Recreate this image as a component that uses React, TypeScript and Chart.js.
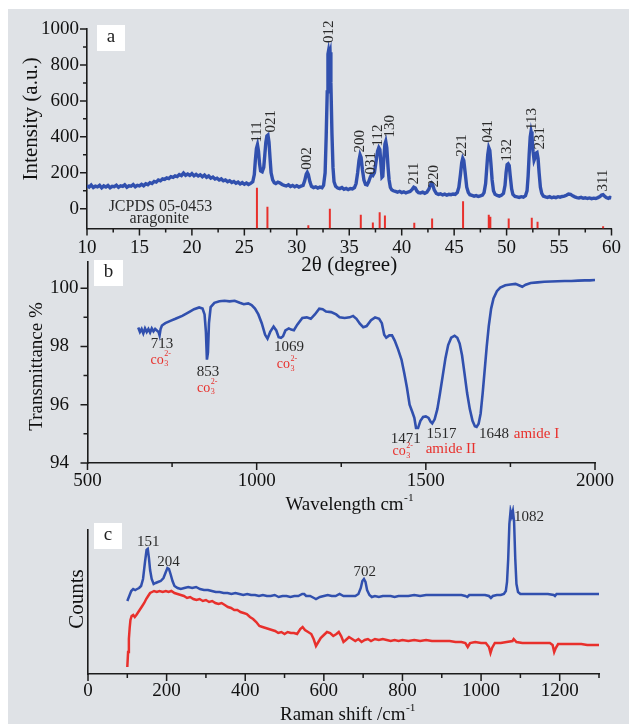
import React, { useEffect, useRef } from 'react';
import { Chart, registerables } from 'chart.js';

Chart.register(...registerables);

const FAMILY = "'Liberation Serif', 'DejaVu Serif', serif";
const BG = '#dfe2e6';
const AXIS = '#1c1c1c';
const INK = '#2a2a2a';
const TICKTXT = '#111111';
const BLUE = '#3150ae';
const RED = '#e8302c';

type Pt = [number, number];
type Label = [string, number, number];

// ---------------- Panel a : XRD ----------------
const xrdAngleMin = 10;
const xrdAngleMax = 60;
const xrdIntensityMin = -110;
const xrdIntensityMax = 1000;
const xrdAngleTicks = [10, 15, 20, 25, 30, 35, 40, 45, 50, 55, 60];
const xrdAngleMinorTicks = [12.5, 17.5, 22.5, 27.5, 32.5, 37.5, 42.5, 47.5, 52.5, 57.5];
const xrdIntensityTicks = [0, 200, 400, 600, 800, 1000];
const xrdIntensityMinorTicks = [100, 300, 500, 700, 900];

const xrdPattern: Pt[] = [
  [10.0, 128], [10.2, 120], [10.4, 132], [10.6, 118], [10.8, 126], [11.0, 122], [11.2, 130], [11.4, 116],
  [11.6, 127], [11.8, 121], [12.0, 129], [12.2, 117], [12.4, 125], [12.6, 123], [12.8, 131], [13.0, 119],
  [13.2, 127], [13.4, 124], [13.6, 133], [13.8, 120], [14.0, 128], [14.2, 125], [14.4, 134], [14.6, 122],
  [14.8, 130], [15.0, 127], [15.2, 136], [15.4, 128], [15.6, 139], [15.8, 134], [16.0, 145], [16.2, 140],
  [16.4, 152], [16.6, 148], [16.8, 160], [17.0, 155], [17.2, 166], [17.4, 163], [17.6, 172], [17.8, 168],
  [18.0, 178], [18.2, 174], [18.4, 183], [18.6, 179], [18.8, 190], [19.0, 184], [19.2, 198], [19.4, 186],
  [19.6, 193], [19.8, 185], [20.0, 195], [20.2, 183], [20.4, 191], [20.6, 182], [20.8, 189], [21.0, 178],
  [21.2, 187], [21.4, 175], [21.6, 182], [21.8, 170], [22.0, 176], [22.2, 165], [22.4, 170], [22.6, 160],
  [22.8, 166], [23.0, 155], [23.2, 160], [23.4, 150], [23.6, 156], [23.8, 146], [24.0, 152], [24.2, 142],
  [24.4, 148], [24.6, 138], [24.8, 145], [25.0, 136], [25.2, 143], [25.4, 135], [25.6, 141], [25.8, 150],
  [25.95, 190], [26.05, 270], [26.15, 335], [26.25, 356], [26.35, 320], [26.45, 250], [26.55, 210], [26.7, 205],
  [26.85, 230], [26.95, 300], [27.05, 370], [27.15, 405], [27.25, 410], [27.35, 370], [27.45, 280], [27.55, 200],
  [27.7, 160], [27.85, 145], [28.0, 140], [28.2, 148], [28.4, 143], [28.6, 135], [28.8, 130], [29.0, 127],
  [29.2, 133], [29.4, 124], [29.6, 130], [29.8, 122], [30.0, 128], [30.2, 121], [30.4, 126], [30.6, 130],
  [30.75, 155], [30.9, 192], [31.0, 202], [31.1, 190], [31.25, 150], [31.4, 125], [31.6, 118], [31.8, 122],
  [32.0, 115], [32.2, 120], [32.4, 117], [32.55, 130], [32.7, 200], [32.8, 400], [32.9, 650], [32.97, 860],
  [33.03, 880], [33.1, 855], [33.17, 870], [33.25, 700], [33.35, 420], [33.45, 230], [33.55, 150], [33.7, 125],
  [33.9, 115], [34.1, 112], [34.3, 118], [34.5, 108], [34.7, 113], [34.9, 106], [35.1, 112], [35.3, 110],
  [35.5, 118], [35.65, 140], [35.8, 200], [35.93, 270], [36.03, 300], [36.13, 285], [36.25, 220], [36.4, 160],
  [36.55, 135], [36.7, 132], [36.85, 150], [37.0, 175], [37.12, 190], [37.25, 185], [37.4, 200], [37.55, 260],
  [37.7, 320], [37.82, 340], [37.92, 330], [38.02, 250], [38.12, 175], [38.2, 180], [38.3, 280], [38.4, 360],
  [38.48, 375], [38.58, 340], [38.7, 230], [38.8, 160], [38.92, 118], [39.05, 105], [39.2, 100], [39.4, 96],
  [39.6, 92], [39.8, 97], [40.0, 90], [40.2, 94], [40.4, 88], [40.6, 93], [40.8, 96], [41.0, 108],
  [41.15, 120], [41.3, 115], [41.45, 98], [41.6, 90], [41.8, 88], [42.0, 92], [42.2, 86], [42.4, 92],
  [42.6, 110], [42.75, 135], [42.85, 143], [42.95, 135], [43.1, 105], [43.3, 85], [43.5, 80], [43.7, 83],
  [43.9, 77], [44.1, 81], [44.3, 76], [44.5, 80], [44.7, 78], [44.9, 82], [45.1, 80], [45.3, 90],
  [45.45, 120], [45.6, 190], [45.72, 255], [45.82, 280], [45.92, 268], [46.05, 200], [46.2, 120], [46.35, 90],
  [46.5, 78], [46.7, 74], [46.9, 70], [47.1, 73], [47.3, 68], [47.5, 72], [47.7, 76], [47.85, 90],
  [48.0, 140], [48.1, 220], [48.2, 300], [48.3, 340], [48.4, 325], [48.5, 255], [48.62, 160], [48.75, 100],
  [48.9, 80], [49.1, 74], [49.3, 70], [49.5, 75], [49.7, 85], [49.85, 130], [49.95, 200], [50.05, 245],
  [50.15, 250], [50.25, 240], [50.35, 180], [50.48, 110], [50.6, 80], [50.8, 68], [51.0, 66], [51.2, 63],
  [51.4, 67], [51.6, 64], [51.8, 72], [51.95, 100], [52.05, 180], [52.15, 300], [52.25, 400], [52.33, 430],
  [52.42, 405], [52.52, 320], [52.62, 270], [52.72, 285], [52.82, 310], [52.9, 313], [53.0, 280], [53.1, 200],
  [53.22, 120], [53.35, 85], [53.5, 70], [53.7, 66], [53.9, 63], [54.1, 67], [54.3, 61], [54.5, 65],
  [54.7, 62], [54.9, 67], [55.1, 64], [55.3, 68], [55.5, 70], [55.7, 75], [55.9, 82], [56.1, 80],
  [56.3, 72], [56.5, 66], [56.7, 62], [56.9, 60], [57.1, 63], [57.3, 58], [57.5, 61], [57.7, 57],
  [57.9, 60], [58.1, 56], [58.3, 59], [58.5, 57], [58.7, 62], [58.9, 68], [59.05, 76], [59.2, 78],
  [59.35, 70], [59.5, 62], [59.7, 58], [59.85, 63], [60.0, 60],
];

const jcpdsSticks: Pt[] = [
  [26.2, 117], [27.2, 11], [31.1, -92], [33.15, 0], [36.1, -33], [37.25, -76], [37.9, -20], [38.4, -37],
  [41.2, -78], [42.9, -54], [45.85, 41], [48.3, -33], [48.45, -45], [50.2, -55], [52.4, -50], [52.95, -72],
  [59.2, -98],
];

const hklLabels: Label[] = [
  ['111', 26.25, 368], ['021', 27.5, 424], ['002', 30.97, 217], ['012', 33.07, 922], ['200', 35.99, 313],
  ['031', 37.04, 191], ['112', 37.79, 346], ['130', 38.92, 396], ['211', 41.19, 135], ['220', 43.08, 118],
  ['221', 45.73, 289], ['041', 48.19, 368], ['132', 50.07, 263], ['113', 52.39, 438], ['231', 53.15, 330],
  ['311', 59.24, 96],
];

const jcpdsNotes: Label[] = [['JCPDS 05-0453', 17.0, 13], ['aragonite', 16.9, -54]];

// ---------------- Panel b : FTIR ----------------
const ftirWaveMin = 500;
const ftirWaveMax = 2000;
const ftirTransMin = 94;
const ftirTransMax = 100.9;
const ftirWaveTicks = [500, 1000, 1500, 2000];
const ftirWaveMinorTicks = [750, 1250, 1750];
const ftirTransTicks = [94, 96, 98, 100];
const ftirTransMinorTicks = [95, 97, 99];

const ftirSpectrum: Pt[] = [
  [650, 98.65], [655, 98.5], [660, 98.6], [665, 98.45], [670, 98.62], [675, 98.5], [680, 98.6], [685, 98.48],
  [690, 98.62], [695, 98.52], [700, 98.6], [705, 98.55], [710, 98.5], [713, 98.38], [716, 98.6], [720, 98.72],
  [730, 98.8], [745, 98.88], [760, 98.95], [780, 99.05], [800, 99.18], [815, 99.28], [830, 99.34], [840, 99.3],
  [846, 99.1], [850, 98.5], [853, 97.55], [856, 97.8], [859, 98.8], [864, 99.35], [875, 99.5], [890, 99.55],
  [905, 99.57], [920, 99.55], [935, 99.57], [950, 99.5], [962, 99.45], [975, 99.48], [985, 99.42], [995, 99.3],
  [1005, 99.1], [1015, 98.8], [1025, 98.4], [1032, 98.27], [1040, 98.5], [1050, 98.68], [1058, 98.55], [1065, 98.32],
  [1072, 98.3], [1078, 98.35], [1085, 98.55], [1095, 98.62], [1102, 98.58], [1110, 98.56], [1120, 98.75], [1135, 98.98],
  [1148, 99.0], [1160, 98.95], [1172, 99.1], [1185, 99.3], [1195, 99.28], [1205, 99.2], [1220, 99.18], [1235, 99.1],
  [1245, 99.0], [1260, 98.98], [1275, 99.0], [1285, 99.05], [1295, 98.95], [1305, 98.78], [1315, 98.66], [1325, 98.7],
  [1338, 98.9], [1350, 99.0], [1362, 98.95], [1370, 98.8], [1377, 98.4], [1383, 98.3], [1392, 98.38], [1400, 98.38],
  [1408, 98.2], [1418, 97.9], [1428, 97.55], [1436, 97.1], [1444, 96.6], [1452, 96.0], [1460, 95.75], [1466, 95.55],
  [1471, 95.2], [1477, 95.2], [1484, 95.45], [1492, 95.58], [1500, 95.6], [1508, 95.55], [1514, 95.42], [1519, 95.36],
  [1526, 95.5], [1534, 95.85], [1542, 96.4], [1550, 97.0], [1558, 97.6], [1566, 98.05], [1575, 98.3], [1585, 98.37],
  [1593, 98.3], [1600, 98.1], [1607, 97.7], [1614, 97.1], [1622, 96.4], [1630, 95.85], [1638, 95.45], [1645, 95.26],
  [1650, 95.24], [1656, 95.35], [1662, 95.7], [1668, 96.4], [1674, 97.2], [1680, 98.0], [1686, 98.7], [1693, 99.3],
  [1700, 99.65], [1710, 99.9], [1720, 100.02], [1735, 100.1], [1750, 100.13], [1765, 100.15], [1775, 100.1], [1785, 100.05],
  [1795, 100.12], [1810, 100.18], [1830, 100.2], [1850, 100.22], [1870, 100.23], [1890, 100.24], [1910, 100.25], [1930, 100.25],
  [1950, 100.26], [1970, 100.27], [1985, 100.27], [2000, 100.28],
];

const ftirBandLabels: Label[] = [
  ['713', 720, 98.09], ['853', 856, 97.12], ['1069', 1095.6, 97.97], ['1471', 1441, 94.81],
  ['1517', 1546, 94.98], ['1648', 1701.6, 94.98],
];
const carbonateMarks: Pt[] = [[715.8, 97.53], [853, 96.58], [1089, 97.38], [1431, 94.39]];
const amideLabels: Label[] = [['amide II', 1574, 94.48], ['amide I', 1827, 94.98]];

// ---------------- Panel c : Raman ----------------
const ramanShiftMin = 0;
const ramanShiftMax = 1300;
const ramanCountMin = 0;
const ramanCountMax = 144;
const ramanShiftTicks = [0, 200, 400, 600, 800, 1000, 1200];
const ramanShiftMinorTicks = [100, 300, 500, 700, 900, 1100, 1300];

const ramanSample: Pt[] = [
  [100, 73], [105, 78], [110, 83], [115, 85], [120, 84], [125, 85], [130, 86], [135, 88], [140, 95], [145, 112],
  [149, 124], [152, 125], [155, 116], [158, 104], [162, 95], [167, 90], [172, 91], [178, 92], [185, 93], [192, 96],
  [197, 101], [202, 106], [206, 105], [210, 100], [215, 93], [220, 88], [228, 86], [236, 85], [245, 86], [255, 87],
  [265, 86], [275, 87], [285, 85], [295, 84], [305, 84], [315, 83], [325, 82], [335, 82], [345, 81], [355, 81],
  [365, 80], [375, 81], [385, 80], [395, 79], [405, 80], [415, 79], [425, 79], [435, 78], [445, 79], [455, 78],
  [465, 78], [475, 79], [485, 77], [495, 78], [505, 78], [515, 77], [525, 78], [535, 78], [545, 80], [550, 80],
  [555, 78], [565, 78], [575, 76], [580, 75], [590, 77], [600, 78], [610, 79], [620, 78], [630, 78], [640, 80],
  [650, 78], [660, 78], [670, 78], [680, 78], [688, 80], [694, 86], [698, 93], [702, 95], [706, 92], [710, 84],
  [716, 79], [722, 77], [730, 78], [740, 77], [750, 78], [760, 78], [770, 78], [780, 77], [790, 78], [800, 78],
  [815, 78], [830, 79], [845, 78], [860, 79], [875, 79], [890, 79], [905, 79], [920, 79], [935, 79], [950, 79],
  [960, 78], [965, 77], [970, 79], [985, 79], [1000, 79], [1010, 79], [1020, 78], [1025, 76], [1030, 78], [1040, 79],
  [1050, 79], [1058, 80], [1063, 83], [1066, 92], [1069, 115], [1072, 150], [1075, 163], [1078, 158], [1081, 163], [1084, 152],
  [1087, 115], [1090, 90], [1094, 82], [1100, 80], [1110, 80], [1125, 80], [1140, 80], [1155, 80], [1170, 80], [1185, 79],
  [1188, 78], [1192, 80], [1205, 80], [1220, 80], [1235, 80], [1250, 80], [1265, 80], [1280, 80], [1300, 80],
];

const ramanReference: Pt[] = [
  [100, 7], [102, 22], [104, 35], [106, 46], [108, 54], [111, 58], [115, 59], [119, 57], [123, 59], [128, 62],
  [133, 65], [138, 68], [143, 71], [148, 75], [153, 78], [158, 81], [163, 82], [168, 83], [175, 82], [182, 83],
  [190, 82], [198, 83], [205, 82], [212, 83], [220, 81], [228, 80], [236, 79], [244, 78], [252, 76], [260, 77],
  [268, 75], [276, 74], [284, 75], [292, 73], [300, 74], [308, 72], [316, 73], [324, 71], [332, 70], [340, 71],
  [348, 69], [356, 67], [364, 66], [372, 64], [380, 64], [388, 62], [396, 61], [404, 60], [412, 57], [420, 55],
  [428, 52], [436, 48], [444, 47], [452, 46], [460, 45], [468, 44], [476, 43], [484, 41], [492, 42], [500, 40],
  [508, 42], [516, 41], [524, 41], [532, 40], [540, 45], [546, 47], [552, 44], [560, 42], [568, 40], [574, 35],
  [580, 28], [586, 32], [592, 36], [600, 39], [608, 42], [616, 41], [624, 38], [632, 40], [638, 42], [644, 38],
  [650, 32], [656, 34], [664, 37], [672, 35], [680, 33], [688, 35], [696, 32], [704, 34], [712, 35], [720, 33],
  [730, 35], [740, 34], [750, 35], [760, 34], [770, 33], [780, 34], [790, 33], [800, 34], [815, 33], [830, 34],
  [845, 33], [860, 34], [875, 33], [890, 33], [905, 33], [920, 33], [935, 32], [950, 32], [960, 31], [966, 27],
  [972, 31], [985, 32], [1000, 31], [1012, 31], [1020, 27], [1024, 21], [1028, 26], [1035, 31], [1050, 31], [1065, 32],
  [1080, 33], [1083, 35], [1090, 32], [1105, 31], [1120, 31], [1135, 31], [1150, 31], [1165, 31], [1175, 31], [1182, 29],
  [1186, 22], [1190, 26], [1196, 30], [1210, 30], [1225, 30], [1240, 30], [1255, 30], [1270, 29], [1285, 29], [1300, 29],
];

const ramanPeakLabels: Label[] = [['151', 153.5, 132.3], ['204', 204.6, 112.3], ['702', 704, 102.3], ['1082', 1122, 157.3]];

// ---------------- layout (pixels) ----------------
const layoutA = { top: 0, height: 270, padding: { left: 0, right: 13, top: 20, bottom: 0 }, yWidth: 79, xHeight: 50.5 };
const layoutB = { top: 231, height: 285, padding: { left: 42, right: 34, top: 22, bottom: 0 }, yWidth: 37.5, xHeight: 62 };
const layoutC = { top: 496, height: 219, padding: { left: 0, right: 30, top: 25, bottom: 0 }, yWidth: 80, xHeight: 50 };

// ---------------- helpers ----------------
function toXY(pts: Pt[]) {
  return pts.map(([x, y]) => ({ x, y }));
}

function plainText(ctx: CanvasRenderingContext2D, str: string, x: number, y: number, size: number, color: string,
  align: CanvasTextAlign = 'center', rot = 0) {
  ctx.save();
  ctx.translate(x, y);
  if (rot) ctx.rotate(rot);
  ctx.font = `${size}px ${FAMILY}`;
  ctx.fillStyle = color;
  ctx.textAlign = align;
  ctx.textBaseline = 'middle';
  ctx.fillText(str, 0, 0);
  ctx.restore();
}

function supText(ctx: CanvasRenderingContext2D, base: string, sup: string, x: number, y: number, size: number, color: string) {
  ctx.save();
  ctx.fillStyle = color;
  ctx.textBaseline = 'middle';
  ctx.textAlign = 'left';
  ctx.font = `${size}px ${FAMILY}`;
  const wb = ctx.measureText(base).width;
  const ss = size * 0.6;
  ctx.font = `${ss}px ${FAMILY}`;
  const ws = ctx.measureText(sup).width;
  const start = x - (wb + ws) / 2;
  ctx.font = `${size}px ${FAMILY}`;
  ctx.fillText(base, start, y);
  ctx.font = `${ss}px ${FAMILY}`;
  ctx.fillText(sup, start + wb + 0.5, y - size * 0.38);
  ctx.restore();
}

function carbonate(ctx: CanvasRenderingContext2D, x: number, y: number, size: number, color: string) {
  ctx.save();
  ctx.fillStyle = color;
  ctx.textBaseline = 'middle';
  ctx.textAlign = 'left';
  ctx.font = `${size}px ${FAMILY}`;
  const wb = ctx.measureText('co').width;
  const ss = size * 0.58;
  ctx.font = `${ss}px ${FAMILY}`;
  const ws = ctx.measureText('2-').width;
  const start = x - (wb + ws) / 2;
  ctx.font = `${size}px ${FAMILY}`;
  ctx.fillText('co', start, y);
  ctx.font = `${ss}px ${FAMILY}`;
  ctx.fillText('3', start + wb + 0.5, y + size * 0.3);
  ctx.fillText('2-', start + wb + 0.5, y - size * 0.42);
  ctx.restore();
}

function drawTicks(ctx: CanvasRenderingContext2D, ca: any, scale: any, axis: 'x' | 'y', major: number[], minor: number[]) {
  ctx.save();
  ctx.strokeStyle = AXIS;
  ctx.lineWidth = 1.5;
  ctx.beginPath();
  const add = (v: number, len: number) => {
    const p = scale.getPixelForValue(v);
    if (axis === 'x') {
      ctx.moveTo(p, ca.bottom);
      ctx.lineTo(p, ca.bottom + len);
    } else {
      ctx.moveTo(ca.left, p);
      ctx.lineTo(ca.left - len, p);
    }
  };
  major.forEach((v) => add(v, 7));
  minor.forEach((v) => add(v, 4));
  ctx.stroke();
  ctx.restore();
}

function panelBox(ctx: CanvasRenderingContext2D, x: number, y: number, w: number, h: number, letter: string, size: number) {
  ctx.save();
  ctx.fillStyle = '#ffffff';
  ctx.fillRect(x, y, w, h);
  ctx.restore();
  plainText(ctx, letter, x + w / 2, y + h / 2 - 1, size, '#222222');
}

function axisX(min: number, max: number, ticks: number[], height: number, pad: number) {
  return {
    type: 'linear' as const,
    min,
    max,
    afterBuildTicks: (s: any) => { s.ticks = ticks.map((value) => ({ value })); },
    afterFit: (s: any) => { s.height = height; },
    grid: { display: false, drawTicks: false },
    border: { display: true, color: AXIS, width: 1.6 },
    ticks: {
      padding: pad, color: TICKTXT, font: { family: FAMILY, size: 19 }, maxRotation: 0, autoSkip: false,
      callback: (v: any) => String(v),
    },
  };
}

function axisY(min: number, max: number, ticks: number[], width: number, pad: number, crossAlign: 'near' | 'far', show = true) {
  return {
    type: 'linear' as const,
    min,
    max,
    afterBuildTicks: (s: any) => { s.ticks = ticks.map((value) => ({ value })); },
    afterFit: (s: any) => { s.width = width; },
    grid: { display: false, drawTicks: false },
    border: { display: true, color: AXIS, width: 1.6 },
    ticks: {
      display: show, padding: pad, crossAlign, color: TICKTXT, font: { family: FAMILY, size: 19 }, autoSkip: false,
      callback: (v: any) => String(v),
    },
  };
}

function baseOptions(L: any, x: any, y: any) {
  return {
    animation: false as const,
    responsive: false,
    devicePixelRatio: 1,
    events: [] as any[],
    layout: { padding: L.padding },
    plugins: { legend: { display: false }, tooltip: { enabled: false } },
    scales: { x, y },
  };
}

function buildXrd(canvas: HTMLCanvasElement) {
  const L = layoutA;
  return new Chart(canvas, {
    type: 'line',
    data: {
      datasets: [
        { data: toXY(xrdPattern), borderColor: BLUE, borderWidth: 3.4, pointRadius: 0, tension: 0 },
        {
          data: jcpdsSticks.flatMap(([x, h]) => [{ x, y: xrdIntensityMin }, { x, y: h }, { x, y: null as any }]),
          borderColor: RED, borderWidth: 2, pointRadius: 0, spanGaps: false,
        },
      ],
    },
    options: baseOptions(L,
      axisX(xrdAngleMin, xrdAngleMax, xrdAngleTicks, L.xHeight, 8),
      axisY(xrdIntensityMin, xrdIntensityMax, xrdIntensityTicks, L.yWidth, 8, 'near')) as any,
    plugins: [{
      id: 'xrdOverlay',
      afterDraw(chart: any) {
        const { ctx, chartArea: ca, scales: { x, y } } = chart;
        drawTicks(ctx, ca, x, 'x', xrdAngleTicks, xrdAngleMinorTicks);
        drawTicks(ctx, ca, y, 'y', xrdIntensityTicks, xrdIntensityMinorTicks);
        hklLabels.forEach(([t, vx, vy]) =>
          plainText(ctx, t, x.getPixelForValue(vx), y.getPixelForValue(vy), 15, INK, 'left', -Math.PI / 2));
        jcpdsNotes.forEach(([t, vx, vy]) => plainText(ctx, t, x.getPixelForValue(vx), y.getPixelForValue(vy), 16, INK));
        panelBox(ctx, ca.left + 10, ca.top - 4, 28, 26, 'a', 19);
        plainText(ctx, '2θ (degree)', (ca.left + ca.right) / 2, ca.bottom + 36.5, 21, TICKTXT);
        plainText(ctx, 'Intensity (a.u.)', ca.left - 56, (ca.top + y.getPixelForValue(0)) / 2, 21, TICKTXT, 'center', -Math.PI / 2);
      },
    }],
  });
}

function buildFtir(canvas: HTMLCanvasElement) {
  const L = layoutB;
  return new Chart(canvas, {
    type: 'line',
    data: {
      datasets: [{ data: toXY(ftirSpectrum), borderColor: BLUE, borderWidth: 2.6, pointRadius: 0, tension: 0 }],
    },
    options: baseOptions(L,
      axisX(ftirWaveMin, ftirWaveMax, ftirWaveTicks, L.xHeight, 7),
      axisY(ftirTransMin, ftirTransMax, ftirTransTicks, L.yWidth, 10, 'far')) as any,
    plugins: [{
      id: 'ftirOverlay',
      afterDraw(chart: any) {
        const { ctx, chartArea: ca, scales: { x, y } } = chart;
        drawTicks(ctx, ca, x, 'x', ftirWaveTicks, ftirWaveMinorTicks);
        drawTicks(ctx, ca, y, 'y', ftirTransTicks, ftirTransMinorTicks);
        ftirBandLabels.forEach(([t, vx, vy]) => plainText(ctx, t, x.getPixelForValue(vx), y.getPixelForValue(vy), 15, INK));
        carbonateMarks.forEach(([vx, vy]) => carbonate(ctx, x.getPixelForValue(vx), y.getPixelForValue(vy), 14, RED));
        amideLabels.forEach(([t, vx, vy]) => plainText(ctx, t, x.getPixelForValue(vx), y.getPixelForValue(vy), 15, RED));
        panelBox(ctx, ca.left + 6.5, ca.top - 2, 29, 26, 'b', 19);
        supText(ctx, 'Wavelength cm', '-1', (ca.left + ca.right) / 2 + 8, ca.bottom + 42, 19, TICKTXT);
        plainText(ctx, 'Transmittance %', ca.left - 50, (ca.top + ca.bottom) / 2 + 4, 19, TICKTXT, 'center', -Math.PI / 2);
      },
    }],
  });
}

function buildRaman(canvas: HTMLCanvasElement) {
  const L = layoutC;
  return new Chart(canvas, {
    type: 'line',
    data: {
      datasets: [
        { data: toXY(ramanSample), borderColor: BLUE, borderWidth: 2.5, pointRadius: 0, tension: 0, clip: false as any },
        { data: toXY(ramanReference), borderColor: RED, borderWidth: 2.5, pointRadius: 0, tension: 0 },
      ],
    },
    options: baseOptions(L,
      axisX(ramanShiftMin, ramanShiftMax, ramanShiftTicks, L.xHeight, 6),
      axisY(ramanCountMin, ramanCountMax, [], L.yWidth, 0, 'near', false)) as any,
    plugins: [{
      id: 'ramanOverlay',
      afterDraw(chart: any) {
        const { ctx, chartArea: ca, scales: { x, y } } = chart;
        drawTicks(ctx, ca, x, 'x', ramanShiftTicks, ramanShiftMinorTicks);
        ramanPeakLabels.forEach(([t, vx, vy]) => plainText(ctx, t, x.getPixelForValue(vx), y.getPixelForValue(vy), 15, INK));
        panelBox(ctx, ca.left + 6, ca.top - 7, 28, 26, 'c', 19);
        supText(ctx, 'Raman shift /cm', '-1', (ca.left + ca.right) / 2 + 4, ca.bottom + 41, 19, TICKTXT);
        plainText(ctx, 'Counts', ca.left - 11, (ca.top + ca.bottom) / 2 - 3, 21, TICKTXT, 'center', -Math.PI / 2);
      },
    }],
  });
}

export default function App() {
  const aRef = useRef<HTMLCanvasElement>(null);
  const bRef = useRef<HTMLCanvasElement>(null);
  const cRef = useRef<HTMLCanvasElement>(null);

  useEffect(() => {
    document.body.style.overflow = 'hidden';
    const charts = [buildXrd(aRef.current!), buildFtir(bRef.current!), buildRaman(cRef.current!)];
    return () => charts.forEach((c) => c.destroy());
  }, []);

  const cv = (top: number, height: number) => ({ position: 'absolute' as const, left: 0, top, width: 621, height, display: 'block' });

  return (
    <div style={{ position: 'absolute', left: 8, top: 9, width: 621, height: 715, background: BG, overflow: 'hidden' }}>
      <canvas ref={aRef} width={621} height={layoutA.height} style={cv(layoutA.top, layoutA.height)} />
      <canvas ref={bRef} width={621} height={layoutB.height} style={cv(layoutB.top, layoutB.height)} />
      <canvas ref={cRef} width={621} height={layoutC.height} style={cv(layoutC.top, layoutC.height)} />
    </div>
  );
}
